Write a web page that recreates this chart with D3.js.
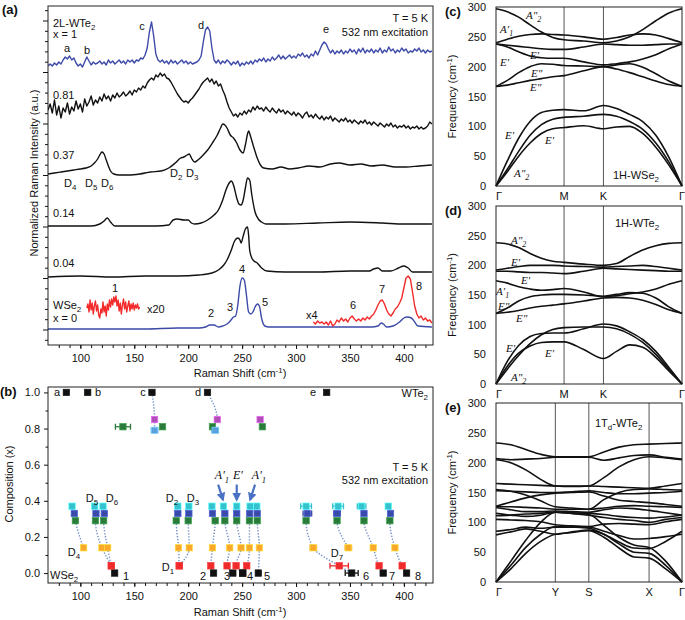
<!DOCTYPE html>
<html>
<head>
<meta charset="utf-8">
<script src="https://cdn.jsdelivr.net/npm/d3@7"></script>
<style>
  body { margin: 0; background: #fff; }
</style>
</head>
<body>
<svg id="fig" width="685" height="620"></svg>
<script>
// ---------------- data: panel (a) Raman spectra ----------------
// evenly sampled traces: start shift, step (cm-1), stacked intensity (a.u.)
var wte2Start = 70, wte2Step = 2;
var wte2Spec = [
  27.9, 28.1, 27.9, 28.2, 28.0, 28.3, 28.1, 28.5, 28.8, 28.6,
  28.9, 28.5, 28.7, 28.2, 27.9, 28.1, 27.8, 28.3, 28.8, 28.4,
  28.0, 28.3, 28.1, 28.2, 28.4, 28.1, 28.3, 28.0, 28.5, 28.2,
  28.4, 28.1, 28.3, 28.5, 28.2, 28.4, 28.1, 28.5, 28.3, 28.5,
  28.2, 28.5, 28.4, 28.7, 28.6, 29.0, 29.7, 31.3, 32.3, 30.9,
  29.1, 28.5, 28.3, 28.5, 28.2, 28.4, 28.1, 28.5, 28.2, 28.4,
  28.1, 28.3, 28.5, 28.2, 28.4, 28.1, 28.3, 28.1, 28.2, 28.3,
  28.5, 28.9, 30.3, 31.5, 31.8, 31.4, 29.7, 28.5, 28.2, 28.5,
  28.1, 28.4, 28.2, 28.5, 28.3, 28.0, 28.3, 28.1, 28.4, 27.9,
  28.2, 28.0, 28.3, 28.1, 28.4, 28.1, 28.5, 28.3, 28.6, 28.4,
  28.7, 28.3, 28.6, 28.4, 28.8, 28.5, 28.7, 29.0, 28.6, 28.9,
  28.6, 28.8, 29.0, 28.7, 28.9, 28.7, 29.1, 28.9, 29.2, 28.8,
  29.0, 28.7, 29.1, 28.9, 29.4, 29.0, 29.5, 30.0, 30.3, 30.1,
  29.6, 29.2, 29.5, 29.1, 29.4, 29.2, 29.5, 29.1, 29.4, 29.2,
  29.6, 29.3, 29.5, 29.1, 29.6, 29.3, 29.7, 29.2, 29.5, 29.3,
  29.6, 29.2, 29.5, 29.3, 29.7, 29.2, 29.5, 29.3, 29.8, 29.4,
  29.6, 29.2, 29.5, 29.3, 29.7, 29.4, 29.6, 29.2, 29.4, 29.3,
  29.6, 29.4, 29.7, 29.3, 29.5, 29.2, 29.5, 29.3, 29.4
];
var x081Start = 70, x081Step = 2;
var x081Spec = [
  23.5, 24.1, 23.2, 24.5, 23.0, 23.9, 22.7, 23.7, 23.3, 24.2,
  23.1, 23.8, 23.4, 24.4, 23.6, 24.1, 23.3, 24.6, 23.9, 24.3,
  24.9, 24.0, 24.5, 24.2, 24.8, 24.4, 25.1, 24.6, 24.9, 24.4,
  25.0, 24.7, 25.2, 24.8, 25.0, 25.3, 24.9, 25.1, 25.4, 25.0,
  25.5, 25.3, 25.7, 25.5, 25.9, 25.7, 26.2, 26.5, 26.7, 26.5,
  27.0, 26.8, 27.2, 26.9, 27.1, 26.7, 26.6, 26.3, 25.9, 25.5,
  25.1, 24.8, 24.5, 24.3, 24.4, 24.2, 24.5, 24.7, 25.0, 25.3,
  25.6, 26.0, 26.3, 26.5, 26.7, 26.3, 26.6, 26.1, 26.4, 25.9,
  26.1, 25.5, 25.0, 24.3, 23.7, 23.3, 22.9, 23.1, 22.8, 23.2,
  23.0, 23.4, 23.1, 23.5, 23.3, 23.8, 23.5, 23.9, 23.6, 23.7,
  23.4, 23.8, 23.5, 23.3, 23.7, 23.4, 23.2, 23.6, 23.3, 23.5,
  23.1, 23.4, 23.2, 23.0, 23.3, 22.9, 23.2, 23.0, 22.7, 23.1,
  23.3, 22.8, 23.0, 22.7, 23.1, 22.8, 22.6, 22.9, 22.5, 22.8,
  22.6, 22.9, 22.4, 22.7, 22.5, 22.3, 22.6, 22.4, 22.7, 22.3,
  22.5, 22.2, 22.5, 22.3, 22.1, 22.4, 22.2, 22.5, 22.1, 22.3,
  22.0, 22.3, 22.1, 21.9, 22.2, 22.0, 21.8, 22.1, 21.9, 22.2,
  21.8, 22.0, 21.7, 21.9, 21.8, 22.0, 21.7, 21.9, 21.6, 21.8,
  21.7, 21.9, 21.6, 21.8, 21.6, 21.7, 21.9, 22.3, 22.1
];
var x20Start = 106, x20Step = 1;
var wse2x20Spec = [
  3.7, 4.1, 3.3, 4.5, 3.5, 4.2, 3.1, 3.9, 4.4, 3.4,
  4.0, 3.0, 2.7, 3.6, 3.2, 4.3, 3.3, 3.9, 2.9, 4.1,
  3.5, 4.5, 3.8, 4.6, 4.0, 4.8, 4.3, 4.9, 3.9, 4.5,
  3.4, 4.2, 3.1, 4.0, 4.6, 3.6, 4.3, 3.3, 3.9, 4.4,
  3.4, 4.1, 3.6, 4.2, 3.5, 4.0, 3.7, 4.1, 3.6, 3.8
];
var x4Start = 316, x4Step = 2;
var wse2x4Spec = [
  2.3, 2.1, 2.4, 2.2, 2.3, 2.1, 2.3, 2.0, 2.4, 1.9,
  2.1, 2.5, 2.3, 2.7, 2.4, 2.6, 2.3, 2.7, 2.9, 2.6,
  2.4, 2.6, 2.4, 2.7, 2.5, 2.8, 2.6, 2.9, 3.1, 3.5,
  4.0, 4.4, 4.5, 4.1, 3.5, 3.1, 2.9, 3.2, 3.6, 3.8,
  4.2, 4.7, 5.7, 6.7, 6.9, 6.6, 5.3, 3.9, 3.1, 2.7,
  2.9, 2.5, 2.7, 2.4, 2.5, 2.2
];
// [shift, intensity] pairs for the smoother traces
var x037Spec = [[70,17.1],[76,17.2],[82,17.3],[88,17.4],[94,17.5],[100,17.6],[105,17.7],[110,17.9],[113,18.2],[116,18.6],[118,19.0],[120,19.3],[122,19.1],[124,18.5],[126,17.9],[128,17.4],[131,17.1],[136,17.0],[145,17.0],[155,17.1],[165,17.3],[175,17.4],[182,17.7],[188,18.2],[193,18.7],[196,18.8],[199,19.0],[201,19.1],[203,18.7],[206,18.3],[209,18.5],[213,18.9],[218,19.5],[223,20.3],[227,21.0],[230,21.7],[232,22.1],[234,22.0],[236,21.7],[239,21.0],[242,20.7],[245,20.2],[248,19.5],[251,19.2],[253,20.0],[255,21.1],[256,21.4],[258,20.8],[261,19.7],[264,18.7],[267,18.0],[270,17.7],[278,17.6],[286,17.8],[294,17.6],[302,17.7],[312,17.9],[322,17.8],[332,18.1],[340,18.2],[350,18.0],[360,18.1],[370,17.9],[380,18.0],[392,17.8],[402,17.8],[414,17.9],[426,18.0]];
var x014Spec = [[70,11.9],[90,11.9],[110,11.9],[118,12.1],[122,12.4],[125,12.7],[128,12.3],[132,11.9],[150,11.9],[170,11.9],[182,12.0],[186,12.5],[190,12.6],[196,12.5],[200,12.5],[203,12.2],[206,12.1],[212,12.2],[218,12.5],[224,13.0],[228,13.5],[232,14.5],[235,15.5],[238,16.2],[240,16.4],[242,16.0],[245,14.7],[247,14.1],[249,14.0],[251,14.5],[253,15.7],[255,16.7],[257,16.5],[259,15.0],[262,13.3],[265,12.6],[268,12.3],[272,12.1],[290,12.1],[320,12.2],[350,12.3],[380,12.2],[400,12.1],[426,12.1]];
var x004Spec = [[70,6.8],[100,6.9],[130,6.8],[160,6.9],[190,6.9],[210,7.0],[222,7.2],[228,7.5],[233,8.0],[236,8.5],[240,9.5],[243,10.4],[246,10.7],[248,10.5],[249,10.2],[251,10.9],[253,11.6],[255,11.8],[256,11.0],[257,9.5],[259,8.7],[261,8.4],[264,8.2],[268,7.7],[273,7.4],[290,7.3],[320,7.3],[350,7.4],[368,7.4],[372,7.6],[376,7.7],[380,7.4],[388,7.4],[395,7.7],[400,7.9],[404,7.7],[408,7.3],[426,7.3]];
var wse2Spec = [[70,1.6],[100,1.6],[130,1.6],[160,1.6],[190,1.7],[210,1.7],[216,1.8],[220,2.0],[224,2.0],[228,1.8],[232,1.9],[236,2.1],[239,2.4],[242,2.8],[244,2.9],[246,4.0],[248,5.9],[250,6.7],[252,6.5],[254,5.0],[256,3.3],[258,3.1],[260,3.3],[262,3.8],[264,4.1],[266,3.9],[268,2.7],[271,1.9],[275,1.8],[300,1.8],[340,1.8],[370,1.8],[376,1.9],[379,2.2],[381,2.1],[384,1.8],[390,1.9],[396,2.3],[400,2.7],[403,2.8],[407,2.7],[410,2.3],[413,1.9],[426,1.8]];

// ---------------- data: panel (b) peak positions vs composition ----------------
var _ = null;
var compositions = [1.0, 0.85, 0.81, 0.79, 0.37, 0.33, 0.29, 0.14, 0.04, 0];
var compColors = ["#111111", "#b04db6", "#2a7a3a", "#5aa0dc", "#36c2cc", "#3a4aa8", "#2a7a3a", "#f8a82a", "#ee2a2a", "#111111"];
// one row per mode, one column per composition
var modeShifts = [
  [87, _, _, _, _, _, _, _, _, _],
  [106.8, _, _, _, _, _, _, _, _, _],
  [166.4, 168.8, _, 168.8, _, _, _, _, _, _],
  [_, _, 139.5, _, _, _, _, _, _, _],
  [_, _, 176.2, _, _, _, _, _, _, _],
  [217.9, 227, 222.5, 225, _, _, _, _, _, _],
  [_, 266.7, 268.8, _, _, _, _, _, _, _],
  [328.4, _, _, _, _, _, _, _, _, _],
  [_, _, _, _, 92.3, 94.4, 95.4, 103, _, _],
  [_, _, _, _, 113.3, 114.5, 114, 120, 128.7, 131.8],
  [_, _, _, _, 121, 122.2, 121.6, 125.3, 128.7, _],
  [_, _, _, _, 190.4, 190.4, 188.9, 191, 191.7, _],
  [_, _, _, _, 200.6, 200.6, 200, 201, 191.7, _],
  [_, _, _, _, 222, 222.5, 225, 222.5, 221, 223.5],
  [_, _, _, _, 232.7, 234, 234, 238.5, 236, 241.4],
  [_, _, _, _, 245, 245, 245, 249, 244.4, 250.6],
  [_, _, _, _, 257.4, 257, 256.8, 256.8, 254.3, 250.6],
  [_, _, _, _, 263.6, 264, 264, 266, _, 265],
  [_, _, _, _, 309.3, 310.5, 309.3, 316, 340, 351.6],
  [_, _, _, _, 339, 338, 338, 348.5, _, _],
  [_, _, _, _, 360.8, 363, 363, 371.6, 377, 380.8],
  [_, _, _, _, 385.5, 387.6, 387, 391.7, 398.4, 402.5]
];
// [mode, composition column, half width]
var errBars = [[3, 2, 7], [2, 3, 3], [5, 3, 3], [18, 4, 5], [19, 4, 5], [20, 4, 4], [18, 5, 4], [19, 5, 3], [18, 6, 2], [19, 6, 2], [18, 7, 3], [19, 7, 3], [18, 8, 8.5], [18, 9, 6]];
// arrows: [from shift, from x, to shift, to x]
var modeArrows = [[227.8, 0.49, 232.3, 0.405], [245, 0.49, 245, 0.405], [262, 0.49, 257.4, 0.405]];

// ---------------- data: phonon dispersions ----------------
var kHex = [0, 0.096, 0.192, 0.289, 0.385, 0.481, 0.577, 0.744, 0.911, 1.022, 1.133, 1.244, 1.355, 1.466, 1.577];
var hexTicks = [0, 0.577, 0.911, 1.577];
var hexLabels = ["Γ", "M", "K", "Γ"];
var bandsWSe2 = [
  [0, 42, 80, 108, 123, 127, 128, 126, 135, 130, 120, 108, 85, 48, 0],
  [0, 28, 58, 85, 103, 112, 115, 117, 120, 117, 108, 95, 72, 40, 0],
  [0, 24, 50, 72, 88, 96, 98, 101, 96, 99, 100, 88, 65, 35, 0],
  [167, 169, 173, 177, 180, 183, 185, 193, 200, 196, 190, 183, 176, 170, 167],
  [167, 177, 190, 200, 205, 204, 202, 201, 200, 203, 205, 199, 188, 176, 167],
  [238, 233, 225, 218, 215, 214, 214, 208, 203, 205, 208, 213, 220, 230, 238],
  [238, 236, 234, 232, 230, 229, 229, 233, 238, 237, 236, 236, 237, 238, 238],
  [240, 246, 251, 254, 255, 254, 253, 250, 246, 249, 253, 255, 253, 247, 240],
  [297, 292, 283, 270, 258, 249, 245, 243, 240, 243, 250, 262, 277, 290, 297]
];
var bandsWTe2 = [
  [0, 38, 65, 80, 85, 86, 86, 93, 101, 98, 88, 75, 55, 28, 0],
  [0, 25, 48, 68, 83, 92, 95, 96, 96, 93, 84, 70, 50, 25, 0],
  [0, 30, 52, 64, 70, 71, 71, 58, 43, 55, 66, 62, 45, 22, 0],
  [119, 121, 124, 128, 131, 133, 135, 140, 145, 146, 145, 141, 134, 125, 119],
  [119, 128, 140, 147, 150, 151, 151, 150, 148, 151, 154, 153, 145, 130, 119],
  [174, 170, 164, 160, 158, 159, 161, 155, 147, 149, 152, 155, 160, 168, 174],
  [190, 190, 189, 188, 188, 187, 186, 190, 195, 194, 193, 192, 191, 190, 190],
  [192, 195, 198, 200, 200, 200, 199, 198, 197, 198, 199, 200, 198, 195, 192],
  [238, 236, 230, 220, 212, 207, 205, 202, 200, 203, 215, 226, 233, 237, 238]
];
var kOrtho = [0, 0.08, 0.16, 0.24, 0.319, 0.409, 0.499, 0.58, 0.661, 0.742, 0.823, 0.912, 1];
var orthoTicks = [0, 0.319, 0.499, 0.823, 1];
var orthoLabels = ["Γ", "Y", "S", "X", "Γ"];
var bandsTd = [
  [233, 230, 222, 214, 210, 210, 210, 218, 226, 230, 231, 232, 233],
  [207, 205, 206, 207, 209, 209, 209, 204, 208, 212, 213, 209, 206],
  [205, 200, 188, 172, 161, 160, 161, 175, 193, 205, 210, 208, 205],
  [165, 164, 163, 162, 161, 161, 161, 160, 159, 158, 157, 161, 165],
  [155, 152, 146, 136, 126, 124, 122, 138, 150, 155, 156, 155, 154],
  [153, 152, 151, 150, 150, 151, 153, 150, 148, 148, 149, 150, 152],
  [127, 134, 141, 146, 149, 150, 151, 144, 137, 135, 133, 130, 127],
  [126, 126, 125, 124, 122, 122, 122, 124, 127, 128, 127, 126, 125],
  [125, 121, 118, 118, 119, 118, 117, 121, 124, 123, 120, 116, 112],
  [115, 112, 110, 112, 117, 116, 115, 113, 110, 108, 107, 109, 112],
  [111, 112, 114, 115, 117, 115, 112, 108, 105, 103, 100, 105, 108],
  [105, 104, 103, 101, 96, 94, 93, 97, 98, 97, 96, 101, 105],
  [85, 88, 92, 90, 92, 92, 92, 85, 78, 72, 73, 76, 80],
  [79, 84, 89, 85, 80, 84, 87, 80, 67, 57, 56, 68, 85],
  [0, 35, 70, 100, 117, 115, 113, 95, 75, 62, 58, 35, 0],
  [0, 28, 58, 80, 93, 92, 90, 80, 64, 50, 48, 28, 0],
  [0, 22, 48, 68, 80, 83, 86, 75, 57, 42, 40, 22, 0]
];

// ---------------- helpers ----------------
var FONT = "'Liberation Sans', Arial, Helvetica, sans-serif";
var SERIF = "'Liberation Serif', 'DejaVu Serif', serif";
var svg = d3.select("#fig");

// text with _{sub} and ^{sup} parts
function label(g, x, y, s, o) {
  o = o || {};
  var fs = o.size || 11;
  var t = g.append("text")
    .attr("x", x).attr("y", y)
    .attr("font-size", fs)
    .attr("font-family", o.family || FONT)
    .attr("text-anchor", o.anchor || "start")
    .attr("fill", o.fill || "#111");
  if (o.weight) t.attr("font-weight", o.weight);
  if (o.italic) t.attr("font-style", "italic");
  if (o.rotate) t.attr("transform", "rotate(" + o.rotate + "," + x + "," + y + ")");
  var parts = s.split(/([_^]\{[^}]*\})/).filter(function (p) { return p !== ""; });
  var cur = 0;
  parts.forEach(function (p) {
    var off = 0, small = false, txt = p;
    if (p[0] === "_") { txt = p.slice(2, -1); off = 0.3 * fs; small = true; }
    else if (p[0] === "^") { txt = p.slice(2, -1); off = -0.4 * fs; small = true; }
    var ts = t.append("tspan").text(txt);
    if (off - cur !== 0) ts.attr("dy", off - cur);
    if (small) ts.attr("font-size", fs * 0.72);
    cur = off;
  });
  return t;
}

function styleAxis(sel) {
  sel.select(".domain").remove();
  sel.selectAll("line").attr("stroke", "#111");
  sel.selectAll("text").attr("font-size", 11).attr("font-family", FONT).attr("fill", "#111");
}

function even(start, step, vals) {
  return vals.map(function (v, i) { return [start + i * step, v]; });
}

function frame(g, x0, y0, x1, y1) {
  g.append("rect").attr("x", x0).attr("y", y0)
    .attr("width", x1 - x0).attr("height", y1 - y0)
    .attr("fill", "none").attr("stroke", "#222").attr("stroke-width", 1);
}

// ---------------- panel (a) ----------------
var xA = d3.scaleLinear().domain([70, 427]).range([48, 433]);
var yA = d3.scaleLinear().domain([0, 33.9]).range([345, 6]);
var gA = svg.append("g");

svg.append("defs").append("clipPath").attr("id", "clipA")
  .append("rect").attr("x", 48).attr("y", 6).attr("width", 385).attr("height", 339);

var rawLine = d3.line().x(function (d) { return xA(d[0]); }).y(function (d) { return yA(d[1]); });
var smoothLine = d3.line().x(function (d) { return xA(d[0]); }).y(function (d) { return yA(d[1]); })
  .curve(d3.curveMonotoneX);

var traces = [
  { d: even(wte2Start, wte2Step, wte2Spec), c: "#3d4aa8", f: rawLine },
  { d: even(x081Start, x081Step, x081Spec), c: "#111", f: rawLine },
  { d: x037Spec, c: "#111", f: smoothLine },
  { d: x014Spec, c: "#111", f: smoothLine },
  { d: x004Spec, c: "#111", f: smoothLine },
  { d: wse2Spec, c: "#3d4aa8", f: smoothLine },
  { d: even(x20Start, x20Step, wse2x20Spec), c: "#f22a2a", f: rawLine },
  { d: even(x4Start, x4Step, wse2x4Spec), c: "#f22a2a", f: rawLine }
];
var gTr = gA.append("g").attr("clip-path", "url(#clipA)");
traces.forEach(function (t) {
  gTr.append("path").attr("d", t.f(t.d))
    .attr("fill", "none").attr("stroke", t.c)
    .attr("stroke-width", 1.4).attr("stroke-linejoin", "round");
});
frame(gA, 48, 6, 433, 345);

function shiftAxis(g, yPix) {
  g.append("g").attr("transform", "translate(0," + yPix + ")")
    .call(d3.axisBottom(xA).tickValues(d3.range(100, 401, 50)).tickSize(4).tickPadding(5))
    .call(styleAxis);
  g.append("g").attr("transform", "translate(0," + yPix + ")")
    .call(d3.axisBottom(xA).tickValues(d3.range(80, 421, 10)).tickSize(3).tickFormat(function () { return ""; }))
    .call(styleAxis);
}
shiftAxis(gA, 345);

// intensity ticks, no labels
for (var i = -1; i <= 31; i++) {
  var v = 1.5 + i * 1.03;
  if (v < 0.3 || v > 33.6) continue;
  var major = (i % 5 === 0);
  gA.append("line").attr("x1", 48 - (major ? 5 : 3)).attr("x2", 48)
    .attr("y1", yA(v)).attr("y2", yA(v)).attr("stroke", "#111");
}

label(gA, 240, 377, "Raman Shift (cm^{-1})", { anchor: "middle" });
label(gA, 38, 173, "Normalized Raman Intensity (a.u.)", { anchor: "middle", rotate: -90 });
label(gA, 2, 14, "(a)", { size: 13, weight: "bold" });

label(gA, 53, 27, "2L-WTe_{2}");
label(gA, 53, 38, "x = 1");
label(gA, 67, 52, "a", { anchor: "middle" });
label(gA, 87, 54, "b", { anchor: "middle" });
label(gA, 142, 30, "c", { anchor: "middle" });
label(gA, 201, 29, "d", { anchor: "middle" });
label(gA, 326, 33, "e", { anchor: "middle" });
label(gA, 428, 22, "T = 5 K", { anchor: "end" });
label(gA, 428, 36, "532 nm excitation", { anchor: "end" });
label(gA, 53, 99, "0.81");
label(gA, 53, 159, "0.37");
label(gA, 64, 187, "D_{4}");
label(gA, 85, 187, "D_{5}");
label(gA, 101, 187, "D_{6}");
label(gA, 170, 177, "D_{2}");
label(gA, 186, 177, "D_{3}");
label(gA, 53, 217, "0.14");
label(gA, 53, 267, "0.04");
label(gA, 53, 309, "WSe_{2}");
label(gA, 53, 322, "x = 0");
label(gA, 115, 292, "1", { anchor: "middle" });
label(gA, 147, 313, "x20");
label(gA, 211, 317, "2", { anchor: "middle" });
label(gA, 230, 311, "3", { anchor: "middle" });
label(gA, 242, 273, "4", { anchor: "middle" });
label(gA, 265, 306, "5", { anchor: "middle" });
label(gA, 306, 319, "x4");
label(gA, 353, 309, "6", { anchor: "middle" });
label(gA, 382, 293, "7", { anchor: "middle" });
label(gA, 419, 290, "8", { anchor: "middle" });

// ---------------- panel (b) ----------------
var xB = xA.copy();
var yB = d3.scaleLinear().domain([-0.055, 1.03]).range([583, 387]);
var gB = svg.append("g");

// dotted guides along each mode
var chainLine = d3.line().x(function (d) { return xB(d[0]); }).y(function (d) { return yB(d[1]); })
  .curve(d3.curveMonotoneY);
modeShifts.forEach(function (row) {
  var pts = [];
  row.forEach(function (s, ci) { if (s !== null) pts.push([s, compositions[ci]]); });
  if (pts.length < 2) return;
  gB.append("path").attr("d", chainLine(pts))
    .attr("fill", "none").attr("stroke", "#6d8cc8")
    .attr("stroke-width", 1.4).attr("stroke-dasharray", "1.3,1.7");
});

// error bars
errBars.forEach(function (e) {
  var s = modeShifts[e[0]][e[1]], c = compositions[e[1]], col = compColors[e[1]];
  var y = yB(c), xl = xB(s - e[2]), xr = xB(s + e[2]);
  gB.append("line").attr("x1", xl).attr("x2", xr).attr("y1", y).attr("y2", y).attr("stroke", col).attr("stroke-width", 1.3);
  gB.append("line").attr("x1", xl).attr("x2", xl).attr("y1", y - 3).attr("y2", y + 3).attr("stroke", col).attr("stroke-width", 1.3);
  gB.append("line").attr("x1", xr).attr("x2", xr).attr("y1", y - 3).attr("y2", y + 3).attr("stroke", col).attr("stroke-width", 1.3);
});

// square markers
modeShifts.forEach(function (row) {
  row.forEach(function (s, ci) {
    if (s === null) return;
    gB.append("rect")
      .attr("x", xB(s) - 3.2).attr("y", yB(compositions[ci]) - 3.2)
      .attr("width", 6.4).attr("height", 6.4)
      .attr("fill", compColors[ci])
      .attr("stroke", d3.color(compColors[ci]).brighter(0.8))
      .attr("stroke-width", 0.7);
  });
});

// arrows
var defs = svg.select("defs");
defs.append("marker").attr("id", "arrowHead")
  .attr("viewBox", "0 0 10 10").attr("refX", 8).attr("refY", 5)
  .attr("markerWidth", 4).attr("markerHeight", 4).attr("orient", "auto")
  .append("path").attr("d", "M0,0 L10,5 L0,10 z").attr("fill", "#4a72c4");
modeArrows.forEach(function (a) {
  gB.append("line")
    .attr("x1", xB(a[0])).attr("y1", yB(a[1]))
    .attr("x2", xB(a[2])).attr("y2", yB(a[3]))
    .attr("stroke", "#4a72c4").attr("stroke-width", 2.2)
    .attr("marker-end", "url(#arrowHead)");
});

frame(gB, 48, 387, 433, 583);
shiftAxis(gB, 583);
gB.append("g").attr("transform", "translate(48,0)")
  .call(d3.axisLeft(yB).tickValues([0, 0.2, 0.4, 0.6, 0.8, 1.0]).tickFormat(d3.format(".1f")).tickSize(4).tickPadding(4))
  .call(styleAxis);
gB.append("g").attr("transform", "translate(48,0)")
  .call(d3.axisLeft(yB).tickValues([0.1, 0.3, 0.5, 0.7, 0.9]).tickSize(2.5).tickFormat(function () { return ""; }))
  .call(styleAxis);

label(gB, 240, 616, "Raman Shift (cm^{-1})", { anchor: "middle" });
label(gB, 13, 484, "Composition (x)", { anchor: "middle", rotate: -90 });
label(gB, 0, 396, "(b)", { size: 13, weight: "bold" });

label(gB, 57, 396, "a", { anchor: "middle" });
label(gB, 98, 396, "b", { anchor: "middle" });
label(gB, 143, 396, "c", { anchor: "middle" });
label(gB, 198, 396, "d", { anchor: "middle" });
label(gB, 313, 396, "e", { anchor: "middle" });
label(gB, 428, 397, "WTe_{2}", { anchor: "end" });
label(gB, 428, 471, "T = 5 K", { anchor: "end" });
label(gB, 428, 484, "532 nm excitation", { anchor: "end" });
label(gB, 92, 502, "D_{5}", { anchor: "middle" });
label(gB, 112, 502, "D_{6}", { anchor: "middle" });
label(gB, 172, 502, "D_{2}", { anchor: "middle" });
label(gB, 193, 502, "D_{3}", { anchor: "middle" });
label(gB, 74, 556, "D_{4}", { anchor: "middle" });
label(gB, 168, 571, "D_{1}", { anchor: "middle" });
label(gB, 337, 557, "D_{7}", { anchor: "middle" });
label(gB, 50, 579, "WSe_{2}");
label(gB, 126, 580, "1", { anchor: "middle" });
label(gB, 203, 580, "2", { anchor: "middle" });
label(gB, 227, 580, "3", { anchor: "middle" });
label(gB, 250, 580, "4", { anchor: "middle" });
label(gB, 267, 580, "5", { anchor: "middle" });
label(gB, 366, 580, "6", { anchor: "middle" });
label(gB, 392, 580, "7", { anchor: "middle" });
label(gB, 418, 580, "8", { anchor: "middle" });
label(gB, 222, 479, "A′_{1}", { anchor: "middle", family: SERIF, italic: true, size: 12 });
label(gB, 238, 479, "E′", { anchor: "middle", family: SERIF, italic: true, size: 12 });
label(gB, 259, 479, "A′_{1}", { anchor: "middle", family: SERIF, italic: true, size: 12 });

// ---------------- panels (c), (d), (e) ----------------
function bandPanel(top, bottom, ks, ticks, tickLabels, bands, panelName) {
  var g = svg.append("g");
  var x = d3.scaleLinear().domain([ks[0], ks[ks.length - 1]]).range([496, 682]);
  var y = d3.scaleLinear().domain([0, 300]).range([bottom, top]);
  ticks.slice(1, -1).forEach(function (t) {
    g.append("line").attr("x1", x(t)).attr("x2", x(t)).attr("y1", top).attr("y2", bottom)
      .attr("stroke", "#555").attr("stroke-width", 1);
  });
  var bl = d3.line().x(function (d, i) { return x(ks[i]); }).y(function (d) { return y(d); })
    .curve(d3.curveMonotoneX);
  bands.forEach(function (b) {
    g.append("path").attr("d", bl(b)).attr("fill", "none")
      .attr("stroke", "#111").attr("stroke-width", 1.6);
  });
  frame(g, 496, top, 682, bottom);
  g.append("g").attr("transform", "translate(496,0)")
    .call(d3.axisLeft(y).tickValues(d3.range(0, 301, 50)).tickSize(0).tickPadding(10))
    .call(styleAxis);
  ticks.forEach(function (t, i) {
    label(g, x(t) + (i === 0 ? 3 : 0), bottom + 14, tickLabels[i], { anchor: "middle" });
  });
  label(g, 456, (top + bottom) / 2, "Frequency (cm^{-1})", { anchor: "middle", rotate: -90 });
  label(g, 445, top + 9, panelName, { size: 13, weight: "bold" });
  return g;
}

var gC = bandPanel(7, 186, kHex, hexTicks, hexLabels, bandsWSe2, "(c)");
label(gC, 613, 179, "1H-WSe_{2}");
var mopt = { family: SERIF, italic: true, size: 11 };
label(gC, 526, 19, "A\"_{2}", mopt);
label(gC, 500, 33, "A′_{1}", mopt);
label(gC, 530, 59, "E′", mopt);
label(gC, 500, 66, "E′", mopt);
label(gC, 531, 77, "E\"", mopt);
label(gC, 530, 91, "E\"", mopt);
label(gC, 505, 139, "E′", mopt);
label(gC, 545, 144, "E′", mopt);
label(gC, 514, 177, "A\"_{2}", mopt);

var gD = bandPanel(206, 384, kHex, hexTicks, hexLabels, bandsWTe2, "(d)");
label(gD, 615, 227, "1H-WTe_{2}");
label(gD, 511, 244, "A\"_{2}", mopt);
label(gD, 511, 266, "E′", mopt);
label(gD, 521, 284, "E′", mopt);
label(gD, 496, 295, "A′_{1}", mopt);
label(gD, 498, 310, "E\"", mopt);
label(gD, 516, 322, "E\"", mopt);
label(gD, 506, 352, "E′", mopt);
label(gD, 545, 357, "E′", mopt);
label(gD, 511, 381, "A\"_{2}", mopt);

var gE = bandPanel(403, 582, kOrtho, orthoTicks, orthoLabels, bandsTd, "(e)");
label(gE, 595, 427, "1T_{d}-WTe_{2}");
</script>
</body>
</html>
